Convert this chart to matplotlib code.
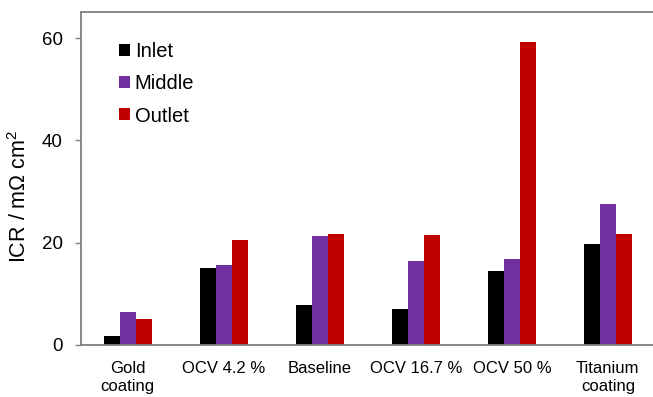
import numpy as np
import matplotlib
matplotlib.use('Agg')
import matplotlib.pyplot as plt

plt.rcParams['font.family'] = ['Liberation Sans', 'DejaVu Sans']
plt.rcParams['mathtext.fontset'] = 'custom'
plt.rcParams['mathtext.rm'] = 'Liberation Sans'
plt.rcParams['mathtext.it'] = 'Liberation Sans:italic'

categories = ['Gold\ncoating', 'OCV 4.2 %', 'Baseline', 'OCV 16.7 %', 'OCV 50 %', 'Titanium\ncoating']
inlet = [1.8, 15.0, 7.7, 7.0, 14.5, 19.8]
middle = [6.5, 15.6, 21.3, 16.3, 16.8, 27.5]
outlet = [5.0, 20.6, 21.6, 21.5, 59.3, 21.7]

series = [('Inlet', inlet, '#000000'),
          ('Middle', middle, '#7030A0'),
          ('Outlet', outlet, '#C00000')]

fig = plt.figure(figsize=(6.53, 3.97), dpi=100)
ax = fig.add_axes([0.1236, 0.1317, 0.8764, 0.8373])

x = np.arange(len(categories))
w = 0.167
for i, (name, vals, col) in enumerate(series):
    ax.bar(x + (i - 1) * w, vals, width=w, color=col, label=name)

ax.set_xlim(-0.49, 5.47)
ax.set_ylim(0, 65.1)
ax.set_yticks([0, 20, 40, 60])
ax.set_xticks(x)
ax.set_xticklabels(categories, fontsize=12, linespacing=1.25)
ax.tick_params(axis='x', length=0, pad=12)
ax.tick_params(axis='y', length=4.5, width=1, color='#808080', labelsize=13.5, pad=8.5)

for side in ['left', 'top', 'bottom']:
    ax.spines[side].set_color('#808080')
    ax.spines[side].set_linewidth(1.3)
ax.spines['right'].set_visible(False)

ax.set_ylabel('ICR / m\u03a9 cm$^2$', fontsize=15.5)
ax.yaxis.set_label_coords(-0.087, 0.447)

leg = ax.legend(loc='upper left', bbox_to_anchor=(0.052, 0.935), frameon=False,
                fontsize=14.5, handlelength=0.55, handleheight=0.55,
                handletextpad=0.26, labelspacing=0.66, borderaxespad=0)

fig.savefig('out.png', dpi=100)
